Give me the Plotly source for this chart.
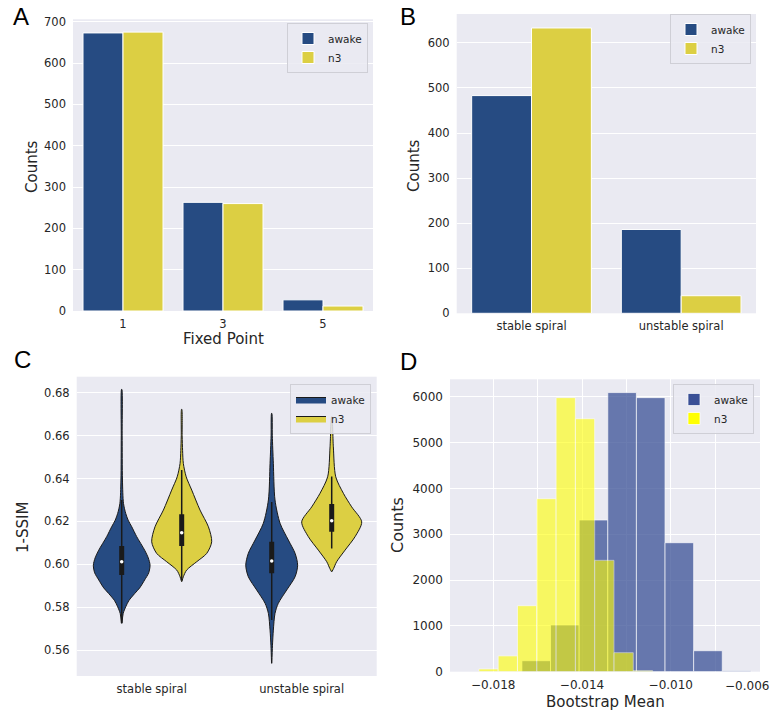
import plotly.graph_objects as go

W, H = 778, 722

# ---------------- data ----------------
groups = ["awake", "n3"]
colors = {"awake": "#264b82", "n3": "#dccf43"}

# Panel A
fp_cats = ["1", "3", "5"]
fp_awake = [673, 263, 27]
fp_n3 = [675, 260, 12]

# Panel B
sp_cats = ["stable spiral", "unstable spiral"]
sp_awake = [483, 186]
sp_n3 = [633, 39]

# Panel C: violin outlines (value, half-width in category units)
vio_awake_stable_y = [0.5725, 0.5771, 0.5802, 0.5830, 0.5864, 0.5890, 0.5927, 0.5960, 0.5996, 0.6030,
                      0.6066, 0.6129, 0.6175, 0.6206, 0.6237, 0.6284, 0.6393, 0.6600, 0.6816]
vio_awake_stable_w = [0.002, 0.010, 0.027, 0.047, 0.087, 0.120, 0.153, 0.180, 0.189, 0.177,
                      0.153, 0.100, 0.067, 0.043, 0.027, 0.012, 0.005, 0.003, 0.001]
vio_n3_stable_y = [0.5919, 0.5942, 0.5973, 0.6012, 0.6051, 0.6105, 0.6175, 0.6253, 0.6346, 0.6408,
                   0.6470, 0.6530, 0.6600, 0.6723]
vio_n3_stable_w = [0.001, 0.011, 0.033, 0.100, 0.167, 0.200, 0.178, 0.122, 0.067, 0.030,
                   0.011, 0.006, 0.003, 0.001]
vio_awake_unstable_y = [0.5538, 0.5620, 0.5693, 0.5771, 0.5818, 0.5880, 0.5942, 0.5996, 0.6051, 0.6113,
                        0.6191, 0.6300, 0.6471, 0.6600, 0.6704]
vio_awake_unstable_w = [0.001, 0.005, 0.011, 0.022, 0.044, 0.100, 0.156, 0.173, 0.156, 0.111,
                        0.056, 0.022, 0.011, 0.004, 0.001]
vio_n3_unstable_y = [0.5965, 0.5981, 0.6012, 0.6066, 0.6129, 0.6198, 0.6268, 0.6331, 0.6408, 0.6548, 0.6688]
vio_n3_unstable_w = [0.001, 0.013, 0.033, 0.089, 0.156, 0.200, 0.133, 0.078, 0.027, 0.011, 0.001]

# box stats: [whisker low, q1, median, q3, whisker high]
box_awake_stable = [0.5725, 0.5950, 0.6012, 0.6085, 0.6300]
box_n3_stable = [0.5925, 0.6085, 0.6147, 0.6233, 0.6440]
box_awake_unstable = [0.5740, 0.5958, 0.6015, 0.6105, 0.6290]
box_n3_unstable = [0.6074, 0.6152, 0.6203, 0.6281, 0.6410]

# Panel D: histograms (bin edges and counts)
hist_awake_edges = [-0.01671, -0.01542, -0.01413, -0.01284, -0.01155, -0.01026, -0.00897, -0.00768, -0.00639]
hist_awake_counts = [240, 1020, 3310, 6090, 5980, 2815, 458, 20]
hist_n3_edges = [-0.01865, -0.01778, -0.01691, -0.01604, -0.01517, -0.01430, -0.01343, -0.01256, -0.01169, -0.01082]
hist_n3_counts = [60, 345, 1440, 3775, 5980, 5520, 2430, 415, 25]

d_tickvals = [-0.020, -0.018, -0.016, -0.014, -0.012, -0.010, -0.008, -0.006]
d_ticktext = ["", "−0.018", "", "−0.014", "", "−0.010", "", ""]
d_edge_label = "−0.006"

# ---------------- figure ----------------
fig = go.Figure()

def px_dom_x(a, b):
    return [a / W, b / W]

def px_dom_y(top, bottom):
    return [1 - bottom / H, 1 - top / H]

FONT = "DejaVu Sans"
TXT = "#262626"
BG = "#eaeaf2"

# A
fig.add_trace(go.Bar(x=fp_cats, y=fp_awake, name="awake", marker=dict(color=colors["awake"], line=dict(color="white", width=1)),
                     xaxis="x", yaxis="y", legend="legend", offsetgroup="a"))
fig.add_trace(go.Bar(x=fp_cats, y=fp_n3, name="n3", marker=dict(color=colors["n3"], line=dict(color="white", width=1)),
                     xaxis="x", yaxis="y", legend="legend", offsetgroup="b"))
# B
fig.add_trace(go.Bar(x=sp_cats, y=sp_awake, name="awake", marker=dict(color=colors["awake"], line=dict(color="white", width=1)),
                     xaxis="x2", yaxis="y2", legend="legend2", offsetgroup="a"))
fig.add_trace(go.Bar(x=sp_cats, y=sp_n3, name="n3", marker=dict(color=colors["n3"], line=dict(color="white", width=1)),
                     xaxis="x2", yaxis="y2", legend="legend2", offsetgroup="b"))

# C violins
violins = [
    ("awake", -0.2, vio_awake_stable_y, vio_awake_stable_w, box_awake_stable, True),
    ("n3", 0.2, vio_n3_stable_y, vio_n3_stable_w, box_n3_stable, True),
    ("awake", 0.8, vio_awake_unstable_y, vio_awake_unstable_w, box_awake_unstable, False),
    ("n3", 1.2, vio_n3_unstable_y, vio_n3_unstable_w, box_n3_unstable, False),
]
for name, cx, ys, ws, box, show in violins:
    xs = [cx + w for w in ws] + [cx - w for w in reversed(ws)]
    yy = list(ys) + list(reversed(ys))
    fig.add_trace(go.Scatter(x=xs, y=yy, mode="lines", fill="toself", fillcolor=colors[name],
                             line=dict(color="#1a1a1a", width=1, shape="spline", smoothing=0.8),
                             name=name, showlegend=show, legend="legend3", xaxis="x3", yaxis="y3",
                             hoverinfo="skip"))
    fig.add_trace(go.Scatter(x=[cx, cx], y=[box[0], box[4]], mode="lines", line=dict(color="#1a1a1a", width=1.5),
                             showlegend=False, xaxis="x3", yaxis="y3", hoverinfo="skip"))
    fig.add_trace(go.Scatter(x=[cx, cx], y=[box[1], box[3]], mode="lines", line=dict(color="#1a1a1a", width=5),
                             showlegend=False, xaxis="x3", yaxis="y3", hoverinfo="skip"))
    fig.add_trace(go.Scatter(x=[cx], y=[box[2]], mode="markers", marker=dict(color="white", size=3.5),
                             showlegend=False, xaxis="x3", yaxis="y3", hoverinfo="skip"))

# D histograms
aw_w = [b - a for a, b in zip(hist_awake_edges[:-1], hist_awake_edges[1:])]
n3_w = [b - a for a, b in zip(hist_n3_edges[:-1], hist_n3_edges[1:])]
fig.add_trace(go.Bar(x=hist_awake_edges[:-1], y=hist_awake_counts, width=aw_w, offset=0, name="awake",
                     marker=dict(color="rgb(58,80,150)", opacity=0.75, line=dict(color="rgba(255,255,255,0.7)", width=1)),
                     xaxis="x4", yaxis="y4", legend="legend4"))
fig.add_trace(go.Bar(x=hist_n3_edges[:-1], y=hist_n3_counts, width=n3_w, offset=0, name="n3",
                     marker=dict(color="rgb(255,255,0)", opacity=0.6, line=dict(color="rgba(255,255,255,0.7)", width=1)),
                     xaxis="x4", yaxis="y4", legend="legend4"))

tickfont = dict(family=FONT, size=11.5, color=TXT)
common_y = dict(showgrid=True, gridcolor="white", gridwidth=1, zeroline=False, ticks="", tickfont=tickfont,
                showline=False, automargin=False, ticklabelstandoff=6)
common_x = dict(showgrid=False, zeroline=False, ticks="", tickfont=tickfont, showline=False, automargin=False,
                ticklabelstandoff=4)

def legend_at(xr, yt):
    return dict(x=xr / W, y=1 - yt / H, xanchor="right", yanchor="top", xref="paper", yref="paper",
                bgcolor="rgba(234,234,242,0.85)", bordercolor="#cfcfd6", borderwidth=1,
                font=dict(family=FONT, size=10.5, color=TXT), itemwidth=30, tracegroupgap=0)

fig.update_layout(
    template="none",
    width=W, height=H, autosize=False,
    margin=dict(l=0, r=0, t=0, b=0, autoexpand=False),
    paper_bgcolor="white", plot_bgcolor=BG,
    barmode="group", bargap=0.2, bargroupgap=0,
    font=dict(family=FONT, color=TXT),
    xaxis=dict(domain=px_dom_x(73, 373), anchor="y", type="category", range=[-0.5, 2.5], **common_x),
    yaxis=dict(domain=px_dom_y(19.3, 311), anchor="x", range=[0, 706], dtick=100, **common_y),
    xaxis2=dict(domain=px_dom_x(456.7, 756), anchor="y2", type="category", range=[-0.5, 1.5], **common_x),
    yaxis2=dict(domain=px_dom_y(14, 313.3), anchor="x2", range=[0, 664], dtick=100, **common_y),
    xaxis3=dict(domain=px_dom_x(76.7, 376.7), anchor="y3", range=[-0.5, 1.5], tickvals=[0, 1], ticktext=sp_cats, **common_x),
    yaxis3=dict(domain=px_dom_y(376.7, 676), anchor="x3", range=[0.5479, 0.6875], tickvals=[0.56, 0.58, 0.60, 0.62, 0.64, 0.66, 0.68],
                tickformat=".2f", **common_y),
    xaxis4=dict(domain=px_dom_x(450, 760), anchor="y4", range=[-0.01995, -0.00598], tickvals=d_tickvals, ticktext=d_ticktext,
                showgrid=True, gridcolor="white", gridwidth=1, zeroline=False, ticks="",
                tickfont=dict(family=FONT, size=12, color=TXT), showline=False, automargin=False,
                ticklabelstandoff=4),
    yaxis4=dict(domain=px_dom_y(379.3, 671.7), anchor="x4", range=[0, 6380], dtick=1000,
                **{**common_y, "tickfont": dict(family=FONT, size=12, color=TXT)}),
    legend=legend_at(368, 23),
    legend2=legend_at(751, 14),
    legend3=legend_at(371, 384),
    legend4=legend_at(754, 384),
)

annots = [
    ("A", 21, 16, 24, 0, "Liberation Sans", "black"),
    ("B", 408, 16, 24, 0, "Liberation Sans", "black"),
    ("C", 22, 359, 24, 0, "Liberation Sans", "black"),
    ("D", 408, 361, 24, 0, "Liberation Sans", "black"),
    ("Counts", 32, 166, 15, -90, FONT, TXT),
    ("Fixed Point", 223, 339, 15, 0, FONT, TXT),
    ("Counts", 414, 166, 15, -90, FONT, TXT),
    ("1-SSIM", 23, 528, 15, -90, FONT, TXT),
    ("Counts", 397, 525, 16, -90, FONT, TXT),
    ("Bootstrap Mean", 605, 702, 15, 0, FONT, TXT),
    (d_edge_label, 747, 686, 12, 0, FONT, TXT),
]
for t, x, y, s, ang, fam, col in annots:
    fig.add_annotation(text=t, x=x / W, y=1 - y / H, xref="paper", yref="paper", showarrow=False,
                       xanchor="center", yanchor="middle", textangle=ang, font=dict(family=fam, size=s, color=col))

fig.write_html("out.html", config={"displayModeBar": False},
               post_script="document.body.style.margin='0';document.body.style.overflow='hidden';")
